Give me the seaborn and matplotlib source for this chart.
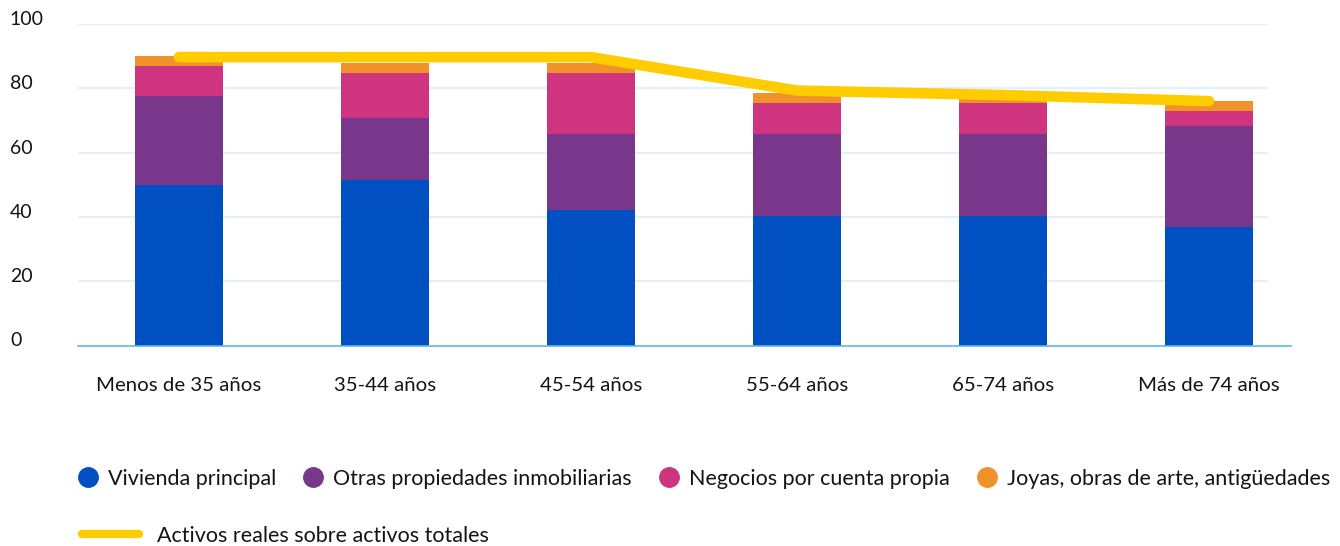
import numpy as np
import pandas as pd
import matplotlib
matplotlib.use("Agg")
import matplotlib.pyplot as plt
from matplotlib.lines import Line2D
from matplotlib.transforms import ScaledTranslation
import seaborn as sns

# ---- data ----
categories = ["Menos de 35 años", "35-44 años", "45-54 años",
              "55-64 años", "65-74 años", "Más de 74 años"]
vivienda = [49.9, 51.5, 42.1, 40.4, 40.4, 37.0]
otras = [27.6, 19.2, 23.6, 25.3, 25.3, 31.2]
negocios = [9.4, 14.0, 19.0, 9.7, 9.7, 4.7]
joyas = [3.1, 3.2, 3.2, 3.1, 1.5, 3.1]
activos = [89.7, 89.7, 89.7, 79.3, 77.9, 76.0]
yticks = [0, 20, 40, 60, 80, 100]

series_names = ["Vivienda principal", "Otras propiedades inmobiliarias",
                "Negocios por cuenta propia", "Joyas, obras de arte, antigüedades"]
line_name = "Activos reales sobre activos totales"
colors = ["#0050C1", "#78378B", "#CF3480", "#F0922A"]
line_color = "#FFCC00"

sns.set_theme(style="white")
plt.rcParams["font.family"] = ["Lato", "DejaVu Sans"]
TEXT = "#141414"

fig = plt.figure(figsize=(13.4, 5.46), dpi=100)
ax = fig.add_axes([78 / 1340, 1 - 345.5 / 546, (1291 - 78) / 1340, (345.5 - 24) / 546])

layers = [vivienda, otras, negocios, joyas]
cum = np.cumsum(np.array(layers, dtype=float), axis=0)
df = pd.DataFrame({"cat": categories})
for i in range(len(layers) - 1, -1, -1):
    df["v"] = cum[i]
    sns.barplot(data=df, x="cat", y="v", color=colors[i], width=0.427,
                saturation=1, linewidth=0, ax=ax, zorder=2)

sns.lineplot(x=np.arange(len(categories)), y=activos, color=line_color,
             linewidth=7.6, ax=ax, zorder=4, sort=False)
for ln in ax.lines:
    ln.set_solid_capstyle("round")
    ln.set_solid_joinstyle("miter")

ax.set_xlim(-0.49, 5.398)
ax.set_ylim(0, 100)
ax.set_xlabel("")
ax.set_ylabel("")

for y in yticks[1:]:
    ax.axhline(y, xmin=0, xmax=0.98, color="#DDEFFB", lw=1.3, zorder=1)

for s in ["top", "right", "left"]:
    ax.spines[s].set_visible(False)
ax.spines["bottom"].set_color("#5BB8F0")
ax.spines["bottom"].set_linewidth(1.2)
ax.spines["bottom"].set_zorder(3)

ax.set_yticks(yticks)
ax.set_yticklabels([str(v) for v in yticks])
ax.tick_params(axis="y", length=0, pad=49, labelsize=14, labelcolor=TEXT)
ax.tick_params(axis="x", length=0, pad=23, labelsize=14.7, labelcolor=TEXT)
off = ScaledTranslation(0, 6 / 100, fig.dpi_scale_trans)
for t in ax.yaxis.get_major_ticks():
    t.label1.set_ha("left")
    t.label1.set_transform(t.label1.get_transform() + off)

# legends
handles = [Line2D([0], [0], marker="o", linestyle="none", markersize=14,
                  markerfacecolor=c, markeredgecolor=c) for c in colors]
leg1 = fig.legend(handles, series_names, loc="center left",
                  bbox_to_anchor=(77 / 1340, (546 - 479) / 546), ncol=4,
                  frameon=False, fontsize=15.5, handlelength=1.0, handletextpad=0.43,
                  columnspacing=1.22, borderpad=0, borderaxespad=0, labelcolor=TEXT)
lh = Line2D([0], [0], color=line_color, linewidth=6, solid_capstyle="round")
leg2 = fig.legend([lh], [line_name], loc="center left",
                  bbox_to_anchor=(82 / 1340, (546 - 536) / 546),
                  frameon=False, fontsize=15.5, handlelength=2.65, handletextpad=0.84,
                  borderpad=0, borderaxespad=0, labelcolor=TEXT)

fig.savefig("out.png", dpi=100)
